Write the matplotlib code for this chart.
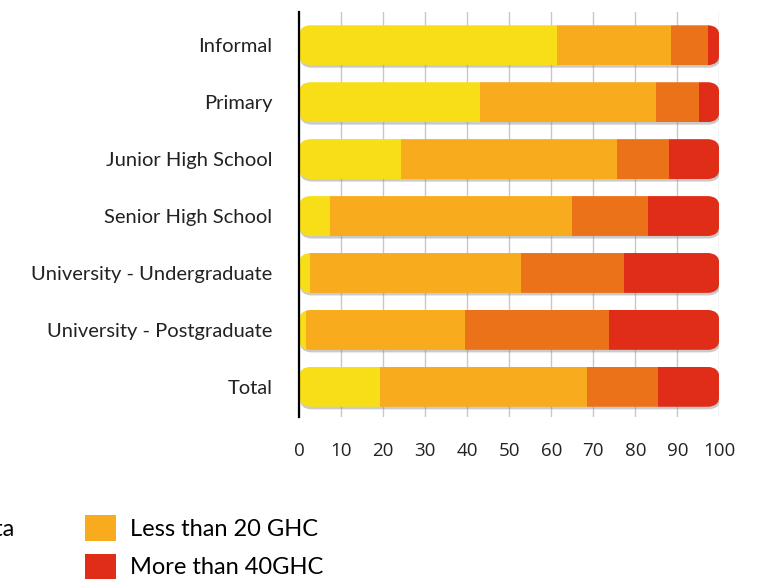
import numpy as np
import matplotlib
matplotlib.use('Agg')
import matplotlib.pyplot as plt
from matplotlib.patches import FancyBboxPatch, Patch

levels = ['Informal', 'Primary', 'Junior High School', 'Senior High School',
          'University - Undergraduate', 'University - Postgraduate', 'Total']
no_data = [61.3, 43.1, 24.2, 7.3, 2.7, 1.7, 19.2]
under20 = [27.2, 41.9, 51.4, 57.6, 50.2, 37.9, 49.2]
mid20_40 = [8.8, 10.1, 12.4, 18.1, 24.4, 34.2, 17.0]
over40 = [2.7, 4.9, 12.0, 17.0, 22.7, 26.2, 14.6]

series = [no_data, under20, mid20_40, over40]
labels = ['No data', 'Less than 20 GHC', '20 - 40 GHC', 'More than 40GHC']
colors = ['#f8de17', '#f7ab1d', '#ec7219', '#e02d17']
xticks = list(range(0, 101, 10))

label_font = 'Lato'
tick_font = 'Open Sans'

fig = plt.figure(figsize=(7.76, 5.80), dpi=100)
ax = fig.add_axes([0.3853, 0.281, 0.5418, 0.698])

y = np.arange(len(levels))
h = 0.70
# rounded ends, ~12px radius each way
rx = 2.8
asp = 0.20 / rx

left = np.zeros(len(levels))
segs = []
for vals, c in zip(series, colors):
    bars = ax.barh(y, vals, left=left, height=h, color=c, zorder=3, linewidth=0)
    segs.append(bars)
    left = left + np.array(vals)

for i in range(len(levels)):
    total = sum(s[i] for s in series)
    shadow = FancyBboxPatch((0.2, y[i] - h / 2 + 0.045), total, h,
                            boxstyle='round,pad=0,rounding_size=%g' % rx,
                            mutation_aspect=asp, facecolor='#8a8a8a',
                            edgecolor='none', alpha=0.45, zorder=2)
    ax.add_patch(shadow)
    clip = FancyBboxPatch((0, y[i] - h / 2), total, h,
                          boxstyle='round,pad=0,rounding_size=%g' % rx,
                          mutation_aspect=asp, facecolor='none',
                          edgecolor='none', zorder=3)
    ax.add_patch(clip)
    for bars in segs:
        bars[i].set_clip_path(clip)

ax.set_xlim(0, 100)
ax.set_ylim(6.53, -0.58)
ax.set_xticks(xticks)
ax.set_yticks(y)
ax.set_yticklabels(levels, fontfamily=label_font, fontsize=14.5, color='#222222')
for t in ax.get_xticklabels():
    t.set_fontfamily(tick_font)
ax.tick_params(axis='x', length=0, pad=18, labelsize=13.5, labelcolor='#222222')
ax.tick_params(axis='y', length=0, pad=19)

ax.grid(axis='x', color='#c8c8c8', linewidth=1.0, zorder=0)
for s in ['top', 'right', 'bottom']:
    ax.spines[s].set_visible(False)
ax.spines['left'].set_color('black')
ax.spines['left'].set_linewidth(1.6)
ax.spines['left'].set_zorder(5)

# legend, two columns (second slot in first column is left empty)
handles = [Patch(facecolor=colors[0]), Patch(visible=False),
           Patch(facecolor=colors[1]), Patch(facecolor=colors[3])]
leg_labels = [labels[0], '', labels[1], labels[3]]
fig.legend(handles, leg_labels, ncol=2, loc='upper right',
           bbox_to_anchor=(335 / 776, 1 - 503 / 580), frameon=False,
           borderpad=0, handlelength=1.3, handleheight=1.3,
           handletextpad=0.6, labelspacing=0.55, columnspacing=3.0,
           prop={'family': label_font, 'size': 17})

plt.savefig('out.png', dpi=100)
